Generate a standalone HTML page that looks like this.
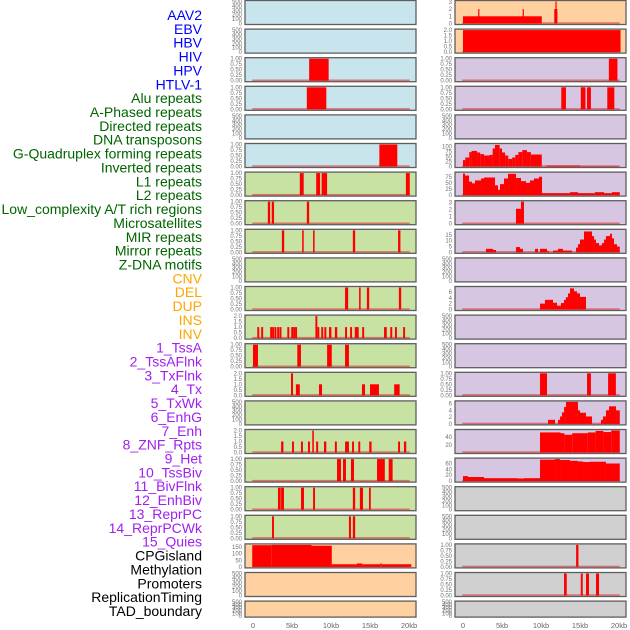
<!DOCTYPE html>
<html><head><meta charset="utf-8"><style>
html,body{margin:0;padding:0;background:#fff;}
svg{display:block;font-family:"Liberation Sans",sans-serif;}
</style></head><body>
<svg id="chart" width="630" height="630" viewBox="0 0 630 630"></svg>
<script>
const rowLabels = ["AAV2","EBV","HBV","HIV","HPV","HTLV-1","Alu repeats","A-Phased repeats","Directed repeats","DNA transposons","G-Quadruplex forming repeats","Inverted repeats","L1 repeats","L2 repeats","Low_complexity A/T rich regions","Microsatellites","MIR repeats","Mirror repeats","Z-DNA motifs","CNV","DEL","DUP","INS","INV","1_TssA","2_TssAFlnk","3_TxFlnk","4_Tx","5_TxWk","6_EnhG","7_Enh","8_ZNF_Rpts","9_Het","10_TssBiv","11_BivFlnk","12_EnhBiv","13_ReprPC","14_ReprPCWk","15_Quies","CPGisland","Methylation","Promoters","ReplicationTiming","TAD_boundary"];
const labelGroupSizes = [6,13,5,15,5];
const labelGroupColors = ["#0000ff","#006400","#ffa500","#a020f0","#000000"];
const leftColors = ["#c8e4ec","#c8e4ec","#c8e4ec","#c8e4ec","#c8e4ec","#c8e4ec","#c8e2a4","#c8e2a4","#c8e2a4","#c8e2a4","#c8e2a4","#c8e2a4","#c8e2a4","#c8e2a4","#c8e2a4","#c8e2a4","#c8e2a4","#c8e2a4","#c8e2a4","#ffd0a0","#ffd0a0","#ffd0a0"];
const rightColors = ["#ffd0a0","#ffd0a0","#d6c6e2","#d6c6e2","#d6c6e2","#d6c6e2","#d6c6e2","#d6c6e2","#d6c6e2","#d6c6e2","#d6c6e2","#d6c6e2","#d6c6e2","#d6c6e2","#d6c6e2","#d6c6e2","#d6c6e2","#d0d0d0","#d0d0d0","#d0d0d0","#d0d0d0","#d0d0d0"];
const T500 = ["0","100","200","300","400","500"];
const T1 = ["0.00","0.25","0.50","0.75","1.00"];
const T2 = ["0.0","0.5","1.0","1.5","2.0"];
const leftTicks = [T500,T500,T1,T1,T500,T1,T1,T1,T1,T500,T1,T2,T1,T2,T500,T2,T1,T1,T1,["0","50","100","150"],T500,T500];
const leftTickVals = [null,null,null,null,null,null,null,null,null,null,null,null,null,null,null,null,null,null,null,[0,50,100,150],null,null];
const leftYMax = [500,500,1,1,500,1,1,1,1,500,1,2,1,2,500,2,1,1,1,166,500,500];
const leftSegments = [
 [],[],
 [[7.2,9.7,1]],
 [[6.9,9.4,1]],
 [],
 [[16.2,18.5,1]],
 [[6.0,6.5,1],[8.1,8.6,1],[8.8,9.5,1],[19.6,20.1,1]],
 [[1.9,2.2,1],[2.4,2.7,1],[6.9,7.2,1]],
 [[3.7,4.0,1],[6.3,6.5,1],[7.7,7.9,1],[12.8,13.1,1],[18.6,18.9,1]],
 [],
 [[11.8,12.2,1],[13.6,13.8,1],[14.6,14.9,1],[18.7,19.0,1]],
 [[0.55,0.8,1],[1.05,1.3,1],[2.2,2.45,1],[2.45,2.7,1],[2.75,3.0,1],[3.1,3.35,1],[3.4,3.65,1],[4.4,4.65,1],[4.9,5.15,1],[5.15,5.4,1],[5.4,5.65,1],[8.0,8.25,2],[8.25,8.5,1],[8.75,9.0,1],[9.15,9.4,1],[9.75,10.05,1],[10.5,10.8,1],[11.8,12.05,1],[12.45,12.7,1],[13.05,13.55,1],[14.0,14.25,1],[16.8,17.15,1],[17.6,17.85,1],[18.2,18.45,1],[19.25,19.5,1]],
 [[0,0.64,1],[5.68,6.15,1],[9.5,10.1,1],[11.8,12.3,1]],
 [[4.87,5.13,2],[5.5,6.0,1],[8.46,8.85,1],[13.97,14.36,1],[15.0,16.15,1],[18.1,18.8,1]],
 [],
 [[3.6,3.9,1],[5.0,5.25,1],[6.15,6.4,1],[7.05,7.3,1],[7.6,7.8,2],[8.1,8.35,1],[9.1,9.4,1],[10.5,10.75,1],[11.8,12.3,1],[12.7,12.95,1],[13.5,13.75,1],[14.9,15.2,1],[18.6,18.85,1],[19.35,19.65,1]],
 [[10.77,11.28,1],[11.54,11.92,1],[12.56,12.95,1],[15.9,16.9,1],[17.4,17.9,1]],
 [[3.2,3.55,1],[3.6,3.97,1],[6.15,6.54,1],[7.7,7.95,1],[12.8,13.1,1],[13.7,14.1,1],[14.87,15.1,1]],
 [[2.44,2.69,1],[12.3,12.56,1],[12.8,13.1,1]],
 [[-0.1,2.4,164],[2.4,7.5,166],[7.5,10.1,160],[10.1,13.3,20],[13.3,14.0,26],[14.0,16.3,20],[16.3,16.5,26],[16.5,20.3,20]],
 [],[]
];
const rightTicks = [["0","1","2","3"],T2,T1,T1,T500,["0","25","50","75","100"],["0","25","50","75"],["0","1","2","3"],["0","5","10","15"],T500,["0","2","4","6"],T500,T500,T1,["0","2","4","6"],["20","40"],["0","20","40","60"],T500,T500,T1,T1,T500];
const rightTickVals = [[0,1,2,3],null,null,null,null,[0,25,50,75,100],[0,25,50,75],[0,1,2,3],[0,5,10,15],null,[0,2,4,6],null,null,null,[0,2,4,6],[20,40],[0,20,40,60],null,null,null,null,null];
const rightYMax = [3.05,2,1,1,500,110,90,3.1,19,500,7.5,500,500,1,6.5,57,75,500,500,1,1,500];
const rightSegments = [
 [[0,10.1,1],[1.95,2.1,2],[7.65,7.8,2],[11.7,12.1,2],[11.85,12.0,3.05]],
 [[0,20.2,2]],
 [[18.7,19.8,1]],
 [[12.6,13.2,1],[15.1,15.7,1],[15.9,16.4,1],[18.5,19.4,1]],
 [],
 [[0,0.3,32],[0.3,0.8,45],[0.8,1.1,72],[1.1,1.8,78],[1.8,2.2,70],[2.2,2.7,62],[2.7,3.4,55],[3.4,3.8,58],[3.8,4.1,90],[4.1,4.7,108],[4.7,5.0,90],[5.0,5.4,70],[5.4,5.8,55],[5.8,6.3,38],[6.3,6.7,45],[6.7,7.1,58],[7.1,7.6,72],[7.6,8.2,82],[8.2,8.7,72],[8.7,10.1,60],[10.7,15.0,5],[15.0,19.9,1.5]],
 [[0,0.26,88],[0.26,0.77,80],[0.77,1.15,55],[1.15,1.54,48],[1.54,2.31,60],[2.31,2.69,68],[2.69,4.1,72],[4.1,4.49,40],[4.49,4.74,22],[4.74,5.26,45],[5.26,5.77,68],[5.77,6.8,87],[6.8,7.44,70],[7.44,8.08,57],[8.08,8.59,50],[8.59,9.1,60],[9.1,9.74,68],[9.74,10.13,75],[10.13,13.7,8],[13.7,14.74,12],[14.74,16.9,8],[16.9,18.08,12],[18.08,19.1,8],[19.1,20.1,12]],
 [[6.79,7.44,2.1],[7.44,7.82,3.3]],
 [[2.95,3.85,3],[3.85,4.23,2],[6.79,7.31,4.5],[7.31,7.69,3],[9.23,9.62,3],[9.87,10.77,3],[10.77,11.03,1],[11.54,12.18,1.5],[12.18,12.82,3],[12.82,13.97,1.5],[14.49,14.74,4],[14.74,15.0,7],[15.0,15.51,11],[15.51,16.54,18],[16.54,16.8,14],[16.8,17.05,11],[17.05,17.44,8],[17.44,17.82,6],[17.82,18.08,8],[18.08,18.33,11],[18.33,18.85,14],[18.85,19.1,16],[19.1,19.36,12],[19.36,19.74,7],[19.74,20.1,5]],
 [],
 [[9.87,10.51,2],[10.51,11.54,3.3],[11.54,12.05,2.3],[12.05,12.56,1.3],[12.56,12.95,2.2],[12.95,13.2,3.3],[13.2,13.46,4.2],[13.46,13.72,5.5],[13.72,14.23,7.2],[14.23,14.62,6.2],[14.62,15.0,5.5],[15.0,15.77,4.3]],
 [],
 [],
 [[9.87,10.77,1],[15.9,16.4,1],[18.6,19.6,1]],
 [[10.9,11.8,1.2],[12.18,12.44,1.2],[12.44,12.69,2.2],[12.69,12.95,3.4],[12.95,13.2,5],[13.2,14.74,6.5],[14.74,15.0,4],[15.0,15.77,3.3],[15.77,16.54,2.2],[17.69,17.95,1.2],[17.95,18.33,2.2],[18.33,18.72,4],[18.72,19.62,5.2],[19.62,20.1,4]],
 [[9.87,12.5,52],[12.5,13.0,50],[13.0,14.0,46],[14.0,16.0,50],[16.0,17.0,52],[17.0,18.0,56],[18.0,19.0,53],[19.0,20.1,57]],
 [[0,0.64,17],[0.64,2.69,14],[2.69,7.05,10],[7.05,7.82,9],[7.82,9.87,10],[9.87,11.8,73],[11.8,12.44,75],[12.44,13.72,72],[13.72,14.74,69],[14.74,15.38,67],[15.38,16.28,65],[16.28,18.33,66],[18.33,20.1,60]],
 [],[],
 [[14.5,14.8,1]],
 [[12.95,13.3,1],[15.1,15.35,1],[15.77,16.15,1],[17.05,17.44,1]],
 []
];
const xTickVals = [0,5,10,15,20];
const xTickLabels = ["0","5kb","10kb","15kb","20kb"];

const NS = "http://www.w3.org/2000/svg";
const svg = document.getElementById("chart");
function mk(tag, attrs, parent){
  const e = document.createElementNS(NS, tag);
  for (const k in attrs) e.setAttribute(k, attrs[k]);
  (parent||svg).appendChild(e);
  return e;
}
const ROW_PITCH = 28.6;
function rowTop(i){ return 0.5 + i*ROW_PITCH; }
function rowH(i){ return i === 21 ? 16 : 24; }
function xScale(kb, colX){ return colX + 8 + kb*7.8; }

let li = 0;
labelGroupSizes.forEach((n, g) => {
  for (let k=0;k<n;k++){
    const t = mk("text", {x:202, y:(20 + li*13.86).toFixed(1), "text-anchor":"end", "font-size":"14", fill:labelGroupColors[g]});
    t.textContent = rowLabels[li];
    
    
    li++;
  }
});

function drawPanel(i, colX, color, segs, ymax, ticks, tickVals, side){
  const top = rowTop(i), h = rowH(i), w = 171;
  const g = mk("g", {});
  
  
  mk("rect", {x:colX, y:top, width:w, height:h, fill:color}, g);
  const yS = v => top + h - 1 - (v/ymax)*(h-2);
  if (segs.length){
    const base = mk("rect", {x:xScale(-0.1,colX), y:yS(0)-1.2, width:xScale(20.1,colX)-xScale(-0.1,colX), height:1.6, fill:"#e03030", opacity:"0.6"}, g);
    
    
  }
  segs.forEach(s => {
    const v = Math.min(s[2], ymax);
    const x0 = xScale(s[0],colX), x1 = xScale(s[1],colX);
    const r = mk("rect", {x:x0.toFixed(2), y:yS(v).toFixed(2), width:Math.max(1.2,x1-x0).toFixed(2), height:(yS(0)-yS(v)).toFixed(2), fill:"#ff0000"}, g);
    
    
  });
  mk("rect", {x:colX, y:top, width:w, height:h, fill:"none", stroke:"#5e5e5e", "stroke-width":"1.3"}, g);
  const n = ticks.length;
  ticks.forEach((t, k) => {
    const val = tickVals ? tickVals[k] : (k/(n-1))*ymax;
    const tt = mk("text", {x:colX-3, y:(yS(val)+2).toFixed(1), "text-anchor":"end", "font-size":"6", fill:"#707070"}, g);
    tt.textContent = t;
    
    
  });
}
for (let i=0;i<22;i++){
  drawPanel(i, 245, leftColors[i], leftSegments[i], leftYMax[i], leftTicks[i], leftTickVals[i], 'left');
  drawPanel(i, 455, rightColors[i], rightSegments[i], rightYMax[i], rightTicks[i], rightTickVals[i], 'right');
}
[245,455].forEach(cx => {
  xTickVals.forEach((v,k) => {
    const t = mk("text", {x:xScale(v,cx).toFixed(1), y:628, "text-anchor":"middle", "font-size":"7.5", fill:"#666"});
    t.textContent = xTickLabels[k];
    
    
  });
});
</script>
</body></html>
